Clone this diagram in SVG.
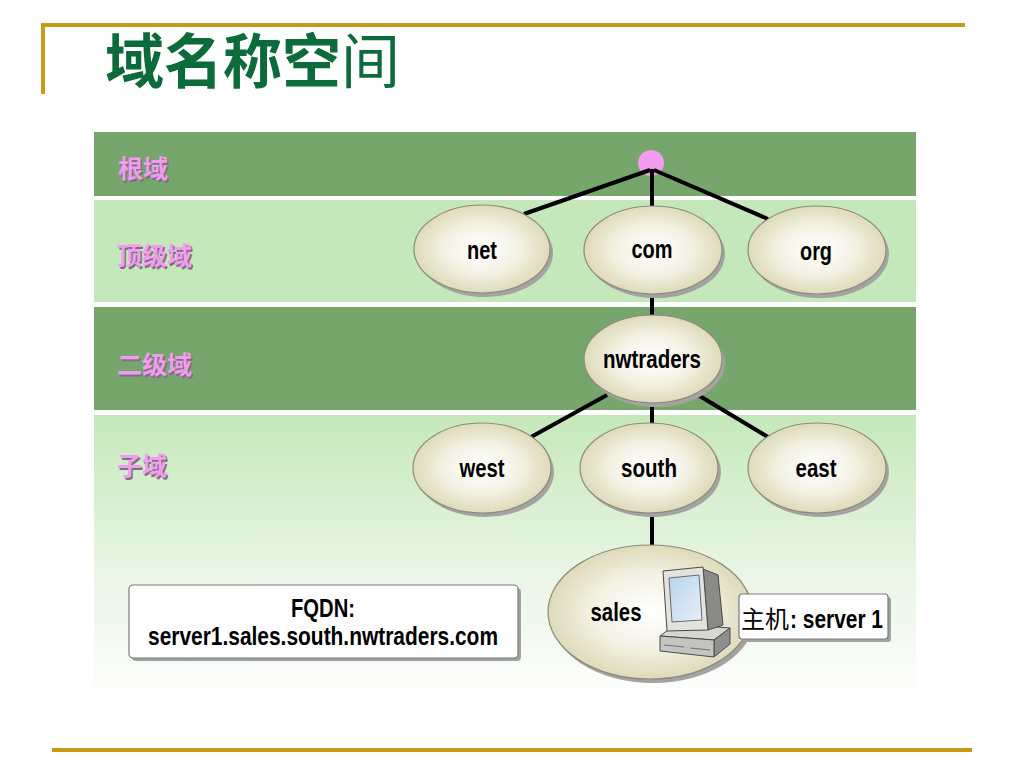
<svg xmlns="http://www.w3.org/2000/svg" width="1024" height="768" viewBox="0 0 1024 768">
<style>
.dark{fill:#76A66C}
.light{fill:#C5E8BA}
.band-label{font-family:"Noto Sans CJK SC","Noto Sans",sans-serif;font-size:25px;font-weight:bold;fill:#F29CF0}
.band-shadow{font-family:"Noto Sans CJK SC","Noto Sans",sans-serif;font-size:25px;font-weight:bold;fill:#7E6E7E}
.lbl{font-family:"Liberation Sans",Arial,sans-serif;font-size:25px;font-weight:bold;fill:#000}
.conn{stroke:#000;stroke-width:4;fill:none;stroke-linecap:butt}
.node{fill:url(#eg);stroke:#8C8C7C;stroke-width:1.2}
.shadow{fill:#A3A3A3}
.gold{fill:#C99A17}
.box{fill:#FFFFFF;stroke:#7A7A7A;stroke-width:1.2}
</style>
<defs>
<radialGradient id="eg" cx="50%" cy="50%" r="50%">
<stop offset="0" stop-color="#FFFFFF"/>
<stop offset="0.55" stop-color="#F4F2E4"/>
<stop offset="1" stop-color="#DEDABA"/>
</radialGradient>
<linearGradient id="band4" x1="0" y1="0" x2="0" y2="1">
<stop offset="0" stop-color="#C5E8BA"/>
<stop offset="0.55" stop-color="#E8F5E4"/>
<stop offset="1" stop-color="#FDFEFD"/>
</linearGradient>
<linearGradient id="scr" x1="0" y1="0" x2="1" y2="1">
<stop offset="0" stop-color="#B9D3EA"/>
<stop offset="1" stop-color="#E6F0F8"/>
</linearGradient>
</defs>

<!-- frame lines -->
<rect class="gold" x="41" y="23" width="924" height="4"/>
<rect class="gold" x="41" y="23" width="4" height="71"/>
<rect class="gold" x="52" y="748" width="920" height="4"/>

<!-- title -->
<text x="105" y="83" font-family="'Noto Sans CJK SC','Noto Sans',sans-serif" font-size="59" fill="#0C6B3A" font-weight="bold">域名称空<tspan font-weight="normal">间</tspan></text>

<!-- bands -->
<g id="bands">
<rect class="dark" x="94" y="132" width="822" height="64"/>
<rect class="light" x="94" y="200" width="822" height="102"/>
<rect class="dark" x="94" y="307" width="822" height="103"/>
<rect fill="url(#band4)" x="94" y="415" width="822" height="277"/>
<text class="band-shadow" x="119.5" y="179.5">根域</text>
<text class="band-label" x="118" y="178">根域</text>
<text class="band-shadow" x="118.5" y="266.5">顶级域</text>
<text class="band-label" x="117" y="265">顶级域</text>
<text class="band-shadow" x="118.5" y="375.5">二级域</text>
<text class="band-label" x="117" y="374">二级域</text>
<text class="band-shadow" x="118.5" y="476.5">子域</text>
<text class="band-label" x="117" y="475">子域</text>
</g>

<g id="root">
<circle cx="651" cy="163" r="13" fill="#F49CF0"/>
</g>

<!-- connectors -->
<g id="connectors">
<line class="conn" x1="650" y1="170" x2="524" y2="214"/>
<line class="conn" x1="652" y1="169" x2="652" y2="207"/>
<line class="conn" x1="654" y1="170" x2="768" y2="219"/>
<line class="conn" x1="652" y1="293" x2="652" y2="317"/>
<line class="conn" x1="607" y1="395" x2="531" y2="437"/>
<line class="conn" x1="652" y1="400" x2="652" y2="425"/>
<line class="conn" x1="698" y1="395" x2="768" y2="437"/>
<line class="conn" x1="652" y1="510" x2="652" y2="550"/>
</g>

<g id="net">
<ellipse class="shadow" cx="485" cy="253" rx="68" ry="44"/>
<ellipse class="node" cx="482" cy="249" rx="68" ry="44"/>
<text class="lbl" x="482" y="259" text-anchor="middle" textLength="30" lengthAdjust="spacingAndGlyphs">net</text>
</g>
<g id="com">
<ellipse class="shadow" cx="656" cy="254" rx="69" ry="44"/>
<ellipse class="node" cx="653" cy="250" rx="69" ry="44"/>
<text class="lbl" x="652" y="258" text-anchor="middle" textLength="41" lengthAdjust="spacingAndGlyphs">com</text>
</g>
<g id="org">
<ellipse class="shadow" cx="820" cy="254" rx="69" ry="44"/>
<ellipse class="node" cx="817" cy="250" rx="69" ry="44"/>
<text class="lbl" x="816" y="260" text-anchor="middle" textLength="32" lengthAdjust="spacingAndGlyphs">org</text>
</g>
<g id="nwtraders">
<ellipse class="shadow" cx="656" cy="363" rx="69" ry="44"/>
<ellipse class="node" cx="653" cy="359" rx="69" ry="44"/>
<text class="lbl" x="652" y="368" text-anchor="middle" textLength="98" lengthAdjust="spacingAndGlyphs">nwtraders</text>
</g>
<g id="west">
<ellipse class="shadow" cx="485" cy="472" rx="69" ry="45"/>
<ellipse class="node" cx="482" cy="468" rx="69" ry="45"/>
<text class="lbl" x="482" y="477" text-anchor="middle" textLength="45" lengthAdjust="spacingAndGlyphs">west</text>
</g>
<g id="south">
<ellipse class="shadow" cx="652" cy="472" rx="69" ry="45"/>
<ellipse class="node" cx="649" cy="468" rx="69" ry="45"/>
<text class="lbl" x="649" y="477" text-anchor="middle" textLength="56" lengthAdjust="spacingAndGlyphs">south</text>
</g>
<g id="east">
<ellipse class="shadow" cx="820" cy="472" rx="69" ry="45"/>
<ellipse class="node" cx="817" cy="468" rx="69" ry="45"/>
<text class="lbl" x="816" y="477" text-anchor="middle" textLength="41" lengthAdjust="spacingAndGlyphs">east</text>
</g>

<g id="sales">
<ellipse class="shadow" cx="653" cy="616" rx="102" ry="67"/>
<ellipse class="node" cx="650" cy="612" rx="102" ry="67"/>
<text class="lbl" x="616" y="621" text-anchor="middle" textLength="51" lengthAdjust="spacingAndGlyphs">sales</text>
<!-- computer icon -->
<g id="computer" stroke="#4A4A4A" stroke-width="1" stroke-linejoin="round">
<polygon points="660,636 676,624 730,628 714,640" fill="#D6D6D2"/>
<polygon points="714,640 730,628 730,644 714,657" fill="#8E8E8C"/>
<polygon points="660,636 714,640 714,657 660,651" fill="#C4C4C0"/>
<line x1="664" y1="645" x2="684" y2="647" stroke="#707070"/>
<line x1="690" y1="648" x2="710" y2="650" stroke="#707070"/>
<polygon points="703,569 718,575 723,625 708,630" fill="#8A8A88"/>
<polygon points="663,571 703,567 708,630 667,631" fill="#E2E2DE"/>
<polygon points="669,578 699,575 702,620 672,622" fill="url(#scr)" stroke="#6A6A6A"/>
</g>
</g>

<g id="host">
<rect class="shadow" x="742" y="597" width="149" height="45" rx="3"/>
<rect class="box" x="739" y="594" width="149" height="45" rx="3"/>
<text x="741" y="628" font-family="'Noto Sans CJK SC','Noto Sans',sans-serif" font-size="24" fill="#000">主机</text>
<text class="lbl" x="790" y="628" textLength="93" lengthAdjust="spacingAndGlyphs" font-size="24">: server 1</text>
</g>

<g id="fqdn">
<rect class="shadow" x="132" y="588" width="389" height="73" rx="4"/>
<rect class="box" x="129" y="585" width="389" height="73" rx="4"/>
<text class="lbl" x="323" y="617" text-anchor="middle" textLength="64" lengthAdjust="spacingAndGlyphs">FQDN:</text>
<text class="lbl" x="323" y="645" text-anchor="middle" textLength="350" lengthAdjust="spacingAndGlyphs">server1.sales.south.nwtraders.com</text>
</g>
</svg>
